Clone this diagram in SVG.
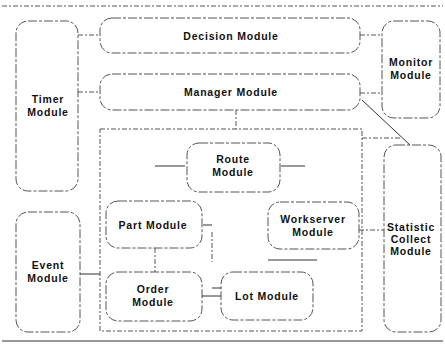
<svg xmlns="http://www.w3.org/2000/svg" width="445" height="357" viewBox="0 0 445 357">
<style>
.box{fill:none;stroke:#555;stroke-width:1;stroke-dasharray:9 2 3 2}
.c{fill:none;stroke:#333;stroke-width:1}
.d{fill:none;stroke:#555;stroke-width:1;stroke-dasharray:5 2 2 2}
text{font-family:"Liberation Sans",Arial,sans-serif;font-weight:bold;font-size:10.5px;letter-spacing:0.8px;fill:#111;text-anchor:middle}
</style>
<rect width="445" height="357" fill="#fff"/>
<g id="frame">
<line class="d" x1="2" y1="6" x2="443" y2="6"/>
<line class="c" x1="2" y1="341" x2="443" y2="341"/>
<rect id="container" class="d" x="100" y="129" width="262" height="202"/>
</g>
<g id="timer"><rect class="box" x="16" y="21" width="62" height="170" rx="12"/><text x="48" y="103">Timer</text><text x="48" y="116">Module</text></g>
<g id="decision"><rect class="box" x="100" y="18" width="260" height="35" rx="12"/><text x="231" y="40">Decision Module</text></g>
<g id="manager"><rect class="box" x="100" y="74" width="260" height="36" rx="12"/><text x="231" y="96">Manager Module</text></g>
<g id="monitor"><rect class="box" x="382" y="21" width="58" height="97" rx="12"/><text x="411" y="66">Monitor</text><text x="411" y="79">Module</text></g>
<g id="route"><rect class="box" x="187" y="143" width="93" height="49" rx="12"/><text x="233" y="163">Route</text><text x="233" y="176">Module</text></g>
<g id="statistic"><rect class="box" x="384" y="145" width="57" height="187" rx="12"/><text x="411" y="231">Statistic</text><text x="411" y="243">Collect</text><text x="411" y="255">Module</text></g>
<g id="workserver"><rect class="box" x="268" y="202" width="91" height="47" rx="12"/><text x="313" y="223">Workserver</text><text x="313" y="236">Module</text></g>
<g id="part"><rect class="box" x="106" y="201" width="96" height="47" rx="12"/><text x="153" y="229">Part Module</text></g>
<g id="order"><rect class="box" x="106" y="272" width="96" height="49" rx="12"/><text x="153" y="293">Order</text><text x="153" y="306">Module</text></g>
<g id="lot"><rect class="box" x="221" y="272" width="92" height="48" rx="12"/><text x="267" y="300">Lot Module</text></g>
<g id="event"><rect class="box" x="16" y="212" width="64" height="120" rx="12"/><text x="48" y="269">Event</text><text x="48" y="282">Module</text></g>
<g id="connectors">
<line class="d" x1="78" y1="35" x2="100" y2="35"/>
<line class="d" x1="78" y1="92" x2="100" y2="92"/>
<line class="d" x1="360" y1="35" x2="382" y2="35"/>
<line class="d" x1="360" y1="93" x2="382" y2="93"/>
<line class="c" x1="362" y1="100" x2="410" y2="145"/>
<line class="d" x1="236" y1="110" x2="236" y2="129"/>
<line class="d" x1="362" y1="138" x2="400" y2="138"/>
<line class="c" x1="155" y1="166" x2="185" y2="166"/>
<line class="c" x1="281" y1="166" x2="305" y2="166"/>
<line class="c" x1="203" y1="225" x2="212" y2="225"/>
<line class="d" x1="212" y1="232" x2="212" y2="262"/>
<line class="d" x1="155" y1="248" x2="155" y2="272"/>
<line class="c" x1="80" y1="274" x2="100" y2="274"/>
<line class="c" x1="202" y1="296" x2="221" y2="296"/>
<line class="c" x1="212" y1="288" x2="221" y2="288"/>
<line class="c" x1="268" y1="260" x2="317" y2="260"/>
<line class="d" x1="359" y1="230" x2="384" y2="230"/>
</g>
</svg>
